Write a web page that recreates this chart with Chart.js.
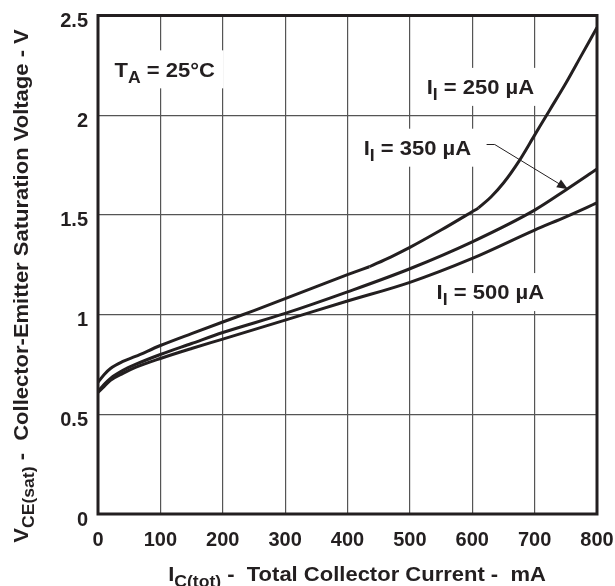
<!DOCTYPE html>
<html>
<head>
<meta charset="utf-8">
<script src="https://cdn.jsdelivr.net/npm/chart.js@4.4.1/dist/chart.umd.min.js"></script>
<style>
  html, body { margin: 0; padding: 0; background: #fff; }
</style>
</head>
<body>
<canvas id="chart" width="615" height="586"></canvas>
<script>
// axis ticks
const xTicks = [0, 100, 200, 300, 400, 500, 600, 700, 800];
const yTicks = [0, 0.5, 1, 1.5, 2, 2.5];
const yTickLabels = ["0", "0.5", "1", "1.5", "2", "2.5"];

// I_I = 250 uA (corners at 435 and 610 mA)
const current250 = [0, 10, 20, 40, 60, 100, 150, 200, 250, 300, 350, 400, 435, 470, 500, 550, 610, 630, 650, 675, 700, 725, 750, 775, 800];
const vce250 = [0.66, 0.70, 0.73, 0.765, 0.79, 0.845, 0.905, 0.963, 1.02, 1.08, 1.14, 1.20, 1.24, 1.29, 1.337, 1.424, 1.535, 1.59, 1.66, 1.77, 1.90, 2.03, 2.16, 2.30, 2.44];
const corners250 = [435, 610];

// I_I = 350 uA
const current350 = [0, 10, 20, 40, 60, 100, 150, 200, 300, 400, 500, 600, 700, 750, 800];
const vce350 = [0.615, 0.65, 0.68, 0.72, 0.75, 0.80, 0.855, 0.91, 1.006, 1.114, 1.23, 1.365, 1.524, 1.625, 1.73];

// I_I = 500 uA
const current500 = [0, 10, 20, 40, 60, 100, 150, 200, 300, 400, 500, 600, 700, 750, 800];
const vce500 = [0.61, 0.64, 0.67, 0.705, 0.735, 0.78, 0.83, 0.877, 0.972, 1.068, 1.162, 1.282, 1.424, 1.49, 1.56];

const FONT = '"Liberation Sans", Arial, Helvetica, sans-serif';
const INK = "#231f20";
const STRETCH = 1.1; // the original lettering runs a bit wider than Arial

function pts(xs, ys) {
    return xs.map((x, i) => ({ x: x, y: ys[i] }));
}

// cut a curve into pieces at its corners so the spline doesn't round them off
function pieces(xs, ys, corners) {
    const out = [];
    let start = 0;
    corners.concat([xs[xs.length - 1]]).forEach(c => {
        const end = xs.indexOf(c);
        out.push(pts(xs.slice(start, end + 1), ys.slice(start, end + 1)));
        start = end;
    });
    return out;
}

// text with subscripts, centred on x, caps centred on y
function richText(ctx, parts, x, y, size) {
    let w = 0;
    parts.forEach(p => {
        ctx.font = "bold " + (p[1] ? size * 0.8 : size) + "px " + FONT;
        p.w = ctx.measureText(p[0]).width;
        w += p.w;
    });
    ctx.save();
    ctx.translate(x, y);
    ctx.scale(STRETCH, 1);
    let cx = -w / 2;
    const base = size * 0.36;
    parts.forEach(p => {
        ctx.font = "bold " + (p[1] ? size * 0.8 : size) + "px " + FONT;
        ctx.fillText(p[0], cx, base + (p[1] ? size * 0.3 : 0));
        cx += p.w;
    });
    ctx.restore();
    return w * STRETCH;
}

const notes = [
    { parts: [["T", 0], ["A", 1], [" = 25°C", 0]], x: 107, y: 2.23 },
    { parts: [["I", 0], ["I", 1], [" = 250 µA", 0]], x: 613, y: 2.142 },
    { parts: [["I", 0], ["I", 1], [" = 350 µA", 0]], x: 512, y: 1.837 },
    { parts: [["I", 0], ["I", 1], [" = 500 µA", 0]], x: 629, y: 1.113 }
];

const decor = {
    id: "decor",
    beforeDatasetsDraw(chart) {
        const ctx = chart.ctx, xs = chart.scales.x, ys = chart.scales.y;
        ctx.save();
        ctx.fillStyle = "#fff";
        notes.forEach(n => {
            const px = xs.getPixelForValue(n.x), py = ys.getPixelForValue(n.y);
            ctx.font = "bold 20px " + FONT;
            const w = ctx.measureText(n.parts.map(p => p[0]).join("")).width * STRETCH;
            ctx.fillRect(px - w / 2 - 8, py - 19, w + 16, 38);
        });
        ctx.restore();
    },
    afterDatasetsDraw(chart) {
        const ctx = chart.ctx, xs = chart.scales.x, ys = chart.scales.y;
        const a = chart.chartArea;
        ctx.save();
        ctx.fillStyle = INK;
        ctx.textAlign = "left";
        ctx.textBaseline = "alphabetic";
        notes.forEach(n => {
            richText(ctx, n.parts, xs.getPixelForValue(n.x), ys.getPixelForValue(n.y), 20);
        });

        // leader arrow for the 350 uA curve
        const p0 = [xs.getPixelForValue(623), ys.getPixelForValue(1.853)];
        const p1 = [xs.getPixelForValue(636), ys.getPixelForValue(1.853)];
        const tip = [xs.getPixelForValue(753.5), ys.getPixelForValue(1.629)];
        ctx.strokeStyle = INK;
        ctx.lineWidth = 1;
        ctx.beginPath();
        ctx.moveTo(p0[0], p0[1]);
        ctx.lineTo(p1[0], p1[1]);
        ctx.lineTo(tip[0], tip[1]);
        ctx.stroke();
        const ang = Math.atan2(tip[1] - p1[1], tip[0] - p1[0]);
        ctx.beginPath();
        ctx.moveTo(tip[0], tip[1]);
        ctx.lineTo(tip[0] - 11 * Math.cos(ang) + 4.5 * Math.sin(ang), tip[1] - 11 * Math.sin(ang) - 4.5 * Math.cos(ang));
        ctx.lineTo(tip[0] - 11 * Math.cos(ang) - 4.5 * Math.sin(ang), tip[1] - 11 * Math.sin(ang) + 4.5 * Math.cos(ang));
        ctx.closePath();
        ctx.fill();

        // frame
        ctx.lineWidth = 3;
        ctx.strokeStyle = INK;
        ctx.strokeRect(a.left, a.top, a.right - a.left, a.bottom - a.top);

        // axis titles
        richText(ctx, [["I", 0], ["C(tot)", 1], [" -  Total Collector Current -  mA", 0]], 357, 574, 20);
        ctx.translate(21, 286);
        ctx.rotate(-Math.PI / 2);
        richText(ctx, [["V", 0], ["CE(sat)", 1], [" -  Collector-Emitter Saturation Voltage - V", 0]], 0, 0, 20);
        ctx.restore();
    }
};

const line = (data) => ({
    data: data,
    borderColor: INK,
    borderWidth: 3,
    pointRadius: 0,
    fill: false,
    cubicInterpolationMode: "monotone"
});

const noPad = s => {
    s.paddingTop = 0;
    s.paddingBottom = 0;
    s.paddingLeft = 0;
    s.paddingRight = 0;
};

new Chart(document.getElementById("chart"), {
    type: "line",
    data: {
        datasets: pieces(current250, vce250, corners250).map(line).concat([
            line(pts(current350, vce350)),
            line(pts(current500, vce500))
        ])
    },
    options: {
        responsive: false,
        animation: false,
        devicePixelRatio: 1,
        layout: { padding: { left: 0, right: 18, top: 15.5, bottom: 0 } },
        plugins: { legend: { display: false }, tooltip: { enabled: false } },
        scales: {
            x: {
                type: "linear",
                min: 0,
                max: 800,
                afterBuildTicks: s => { s.ticks = xTicks.map(v => ({ value: v })); },
                afterFit: s => { s.height = 72; noPad(s); },
                grid: { color: "#555", lineWidth: 1.2, drawTicks: false },
                border: { display: false },
                ticks: {
                    color: INK,
                    padding: 14,
                    maxRotation: 0,
                    font: { family: FONT, size: 20, weight: "bold" }
                }
            },
            y: {
                type: "linear",
                min: 0,
                max: 2.5,
                afterBuildTicks: s => { s.ticks = yTicks.map(v => ({ value: v })); },
                afterFit: s => { s.width = 98; noPad(s); },
                grid: { color: "#555", lineWidth: 1.2, drawTicks: false },
                border: { display: false },
                ticks: {
                    color: INK,
                    padding: 10,
                    labelOffset: 6,
                    font: { family: FONT, size: 20, weight: "bold" },
                    callback: (v, i) => yTickLabels[i]
                }
            }
        }
    },
    plugins: [decor]
});
</script>
</body>
</html>
